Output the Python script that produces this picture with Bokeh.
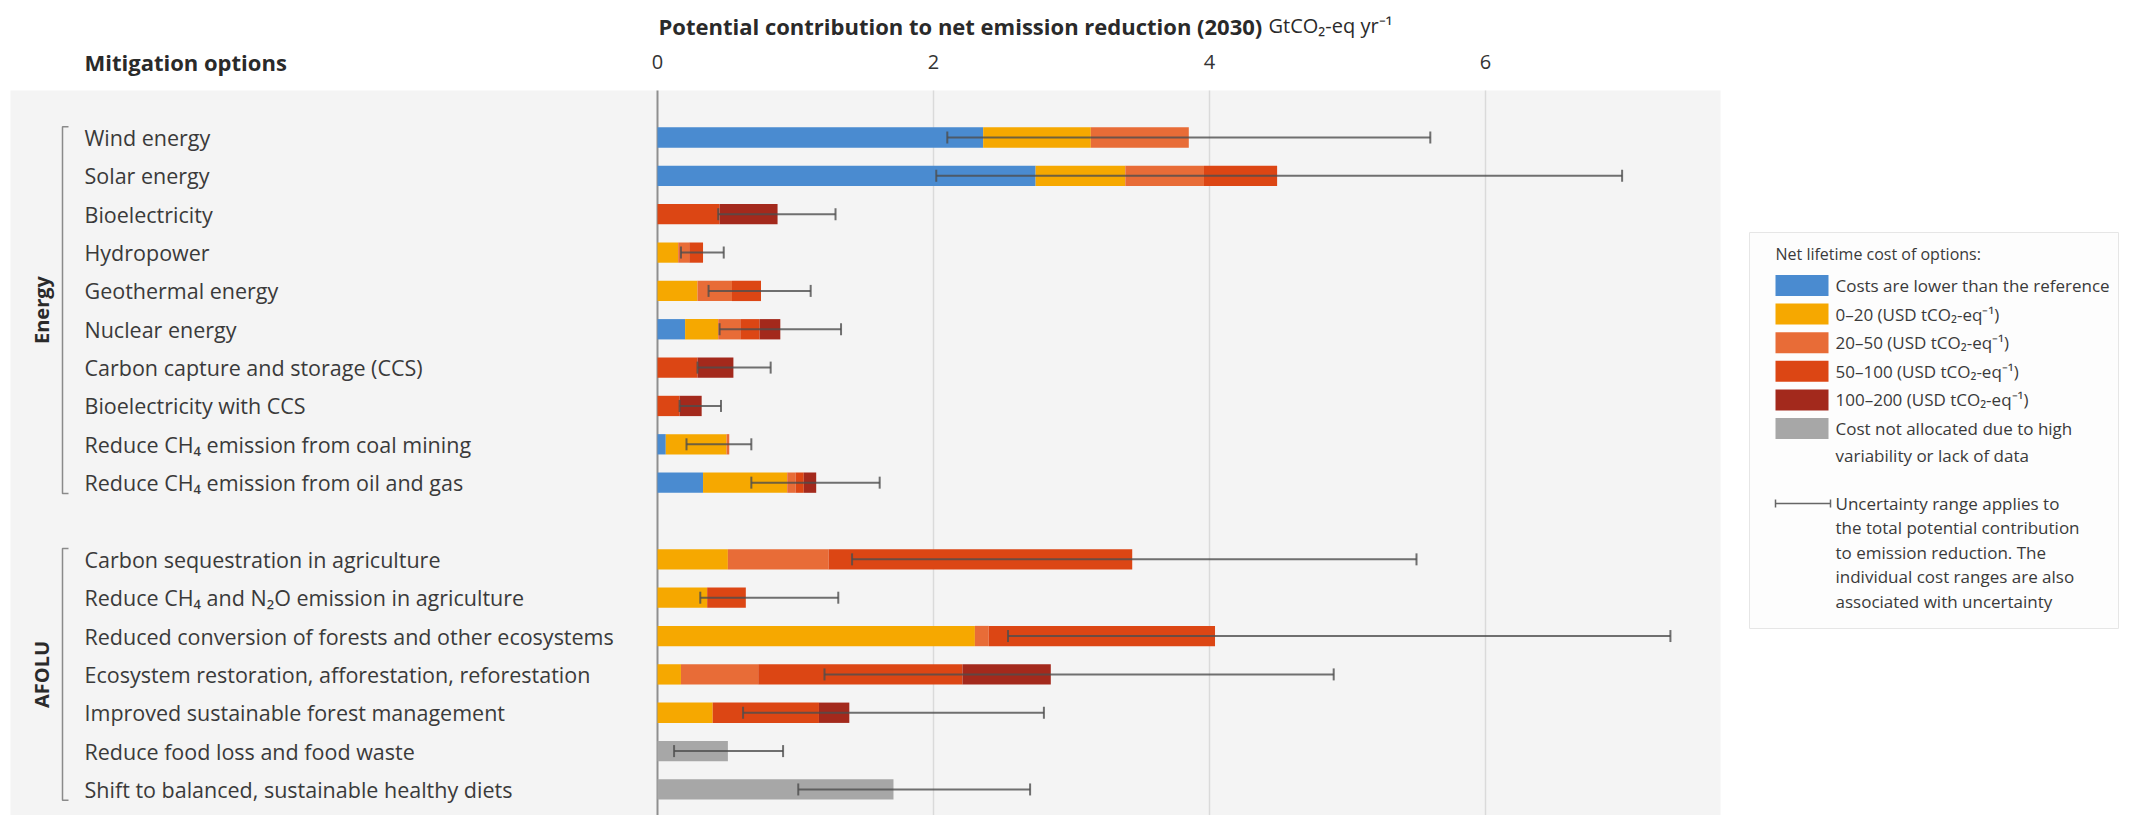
import math
from bokeh.plotting import figure
from bokeh.models import (Range1d, ColumnDataSource, Whisker, TeeHead, BoxAnnotation)
from bokeh.core.properties import value
from bokeh.embed import file_html
from bokeh.resources import INLINE

# ---------------- data ----------------
options = [
    "Wind energy", "Solar energy", "Bioelectricity", "Hydropower", "Geothermal energy",
    "Nuclear energy", "Carbon capture and storage (CCS)", "Bioelectricity with CCS",
    "Reduce CH\u2084 emission from coal mining", "Reduce CH\u2084 emission from oil and gas",
    "Carbon sequestration in agriculture", "Reduce CH\u2084 and N\u2082O emission in agriculture",
    "Reduced conversion of forests and other ecosystems",
    "Ecosystem restoration, afforestation, reforestation",
    "Improved sustainable forest management", "Reduce food loss and food waste",
    "Shift to balanced, sustainable healthy diets",
]
sectors = ["Energy"] * 10 + ["AFOLU"] * 7
group_names = ["Energy", "AFOLU"]

cost_labels = [
    "Costs are lower than the reference",
    "0\u201320 (USD tCO\u2082-eq\u207b\u00b9)",
    "20\u201350 (USD tCO\u2082-eq\u207b\u00b9)",
    "50\u2013100 (USD tCO\u2082-eq\u207b\u00b9)",
    "100\u2013200 (USD tCO\u2082-eq\u207b\u00b9)",
    "Cost not allocated due to high\nvariability or lack of data",
]
cost_keys = ["lower", "c0_20", "c20_50", "c50_100", "c100_200", "na"]
cost_colors = ["#4a8bd0", "#f6a800", "#e86c37", "#dc4614", "#a3291c", "#a7a7a7"]

# GtCO2-eq/yr contributed in each net-cost class
lower    = [2.36, 2.74, 0.00, 0.00, 0.00, 0.20, 0.00, 0.00, 0.06, 0.33, 0.00, 0.00, 0.00, 0.00, 0.00, 0.00, 0.00]
c0_20    = [0.78, 0.65, 0.00, 0.15, 0.29, 0.24, 0.00, 0.00, 0.44, 0.61, 0.51, 0.36, 2.30, 0.17, 0.40, 0.00, 0.00]
c20_50   = [0.71, 0.57, 0.00, 0.08, 0.25, 0.16, 0.00, 0.00, 0.02, 0.06, 0.73, 0.00, 0.10, 0.56, 0.00, 0.00, 0.00]
c50_100  = [0.00, 0.53, 0.45, 0.10, 0.21, 0.14, 0.29, 0.16, 0.00, 0.06, 2.20, 0.28, 1.64, 1.48, 0.77, 0.00, 0.00]
c100_200 = [0.00, 0.00, 0.42, 0.00, 0.00, 0.15, 0.26, 0.16, 0.00, 0.09, 0.00, 0.00, 0.00, 0.64, 0.22, 0.00, 0.00]
na       = [0.00, 0.00, 0.00, 0.00, 0.00, 0.00, 0.00, 0.00, 0.00, 0.00, 0.00, 0.00, 0.00, 0.00, 0.00, 0.51, 1.71]

unc_low  = [2.10, 2.02, 0.44, 0.17, 0.37, 0.45, 0.29, 0.16, 0.21, 0.68, 1.41, 0.31, 2.54, 1.21, 0.62, 0.12, 1.02]
unc_high = [5.60, 6.99, 1.29, 0.48, 1.11, 1.33, 0.82, 0.46, 0.68, 1.61, 5.50, 1.31, 7.34, 4.90, 2.80, 0.91, 2.70]

x_ticks = [0, 2, 4, 6]
x_title = "Potential contribution to net emission reduction (2030)"
x_unit = "GtCO\u2082-eq yr\u207b\u00b9"
y_title = "Mitigation options"
legend_title = "Net lifetime cost of options:"
unc_text = ["Uncertainty range applies to", "the total potential contribution",
            "to emission reduction. The", "individual cost ranges are also",
            "associated with uncertainty"]

# ---------------- layout helpers (pixel -> data) ----------------
W, H = 2133, 815
X0, XS = 657.0, 138.0      # pixel of x=0, pixels per GtCO2
Y0, YS = 137.0, 38.35      # pixel of first row, pixels per row slot
TOP = 90                   # top of the plotting band
FONT = "Open Sans"


def dx(px):
    return (px - X0) / XS


def dy(py):
    return (py - Y0) / YS


# row slots: one empty slot between the two sectors
slots = []
s = 0
prev = sectors[0]
for sec in sectors:
    if sec != prev:
        s += 1
        prev = sec
    slots.append(s)
    s += 1

src = ColumnDataSource(dict(
    slot=slots, option=options,
    lower=lower, c0_20=c0_20, c20_50=c20_50, c50_100=c50_100, c100_200=c100_200, na=na,
    lo=unc_low, hi=unc_high,
))

p = figure(width=W, height=H, output_backend="svg", toolbar_location=None,
           x_range=Range1d(dx(0), dx(W)), y_range=Range1d(dy(H), dy(0)),
           x_axis_location=None, y_axis_location=None,
           min_border_left=0, min_border_right=0, min_border_bottom=0, min_border_top=0)
p.outline_line_color = None
p.background_fill_color = "white"
p.border_fill_color = "white"
p.grid.visible = False

# light grey band behind the options and bars
p.add_layout(BoxAnnotation(left=dx(10), right=dx(1720), top=dy(TOP), bottom=dy(H),
                           fill_color="#f4f4f4", fill_alpha=1.0, line_color=None, level="image"))

# x scale: tick labels, grid lines and zero line
p.text(x=x_ticks, y=[dy(61)] * len(x_ticks), text=[str(t) for t in x_ticks],
       text_font=value(FONT), text_font_size="20px", text_color="#333333",
       text_align="center", text_baseline="middle")
grid_ticks = [t for t in x_ticks if t != 0]
p.segment(x0=grid_ticks, x1=grid_ticks, y0=[dy(TOP)] * len(grid_ticks),
          y1=[dy(H)] * len(grid_ticks), line_color="#dadada", line_width=1.5)
p.segment(x0=[0], x1=[0], y0=[dy(TOP)], y1=[dy(H)], line_color="#8f8f8f", line_width=2)

# stacked bars
p.hbar_stack(cost_keys, y="slot", height=0.53, source=src,
             fill_color=cost_colors, line_color=None)

# uncertainty ranges
wk = Whisker(base="slot", lower="lo", upper="hi", dimension="width", source=src,
             line_color="#4d4d4d", line_alpha=0.8, line_width=2, level="annotation",
             lower_head=TeeHead(size=12, line_color="#4d4d4d", line_alpha=0.8, line_width=2),
             upper_head=TeeHead(size=12, line_color="#4d4d4d", line_alpha=0.8, line_width=2))
p.add_layout(wk)

# option labels
p.text(x=dx(84), y="slot", text="option", source=src,
       text_font=value(FONT), text_font_size="21.5px", text_color="#3a3a3a",
       text_align="left", text_baseline="middle")

# sector brackets and names
for g in group_names:
    ss = [sl for sl, sec in zip(slots, sectors) if sec == g]
    top_s, bot_s = min(ss) - 0.28, max(ss) + 0.28
    p.line(x=[dx(68), dx(62), dx(62), dx(68)], y=[top_s, top_s, bot_s, bot_s],
           line_color="#8a8a8a", line_width=1.5)
    p.text(x=[dx(41)], y=[(top_s + bot_s) / 2], text=[g], angle=math.pi / 2,
           text_font=value(FONT), text_font_style="bold", text_font_size="20px",
           text_color="#2a2a2a", text_align="center", text_baseline="middle")

# headings
p.text(x=[dx(84)], y=[dy(61)], text=[y_title],
       text_font=value(FONT), text_font_style="bold", text_font_size="22px",
       text_color="#2a2a2a", text_baseline="middle")
p.text(x=[dx(658)], y=[dy(25)], text=[x_title],
       text_font=value(FONT), text_font_style="bold", text_font_size="22px",
       text_color="#2a2a2a", text_baseline="middle")
p.text(x=[dx(1268)], y=[dy(25)], text=[x_unit],
       text_font=value(FONT), text_font_size="20px",
       text_color="#2a2a2a", text_baseline="middle")

# ---------------- legend ----------------
p.quad(left=[dx(1749)], right=[dx(2118)], top=[dy(232)], bottom=[dy(628)],
       fill_color="#fdfdfd", line_color="#e6e6e6", line_width=1)
p.text(x=[dx(1775)], y=[dy(253)], text=[legend_title],
       text_font=value(FONT), text_font_size="16px", text_color="#3a3a3a",
       text_baseline="middle")
leg_y = [dy(285 + 28.6 * i) for i in range(len(cost_keys))]
p.rect(x=[dx(1801.5)] * len(cost_keys), y=leg_y, width=53 / XS, height=21 / YS,
       fill_color=cost_colors, line_color=None)
for i, lab in enumerate(cost_labels):
    for j, line in enumerate(lab.split("\n")):
        p.text(x=[dx(1835)], y=[leg_y[i] + 26.5 * j / YS], text=[line],
               text_font=value(FONT), text_font_size="17px", text_color="#3a3a3a",
               text_baseline="middle")
p.segment(x0=[dx(1775)], x1=[dx(1830)], y0=[dy(503)], y1=[dy(503)],
          line_color="#666666", line_width=1.5)
p.segment(x0=[dx(1775), dx(1830)], x1=[dx(1775), dx(1830)],
          y0=[dy(499)] * 2, y1=[dy(507)] * 2, line_color="#666666", line_width=1.5)
for j, line in enumerate(unc_text):
    p.text(x=[dx(1835)], y=[dy(503 + 24.4 * j)], text=[line],
           text_font=value(FONT), text_font_size="17px", text_color="#3a3a3a",
           text_baseline="middle")

open("out.html", "w").write(file_html(p, INLINE))
